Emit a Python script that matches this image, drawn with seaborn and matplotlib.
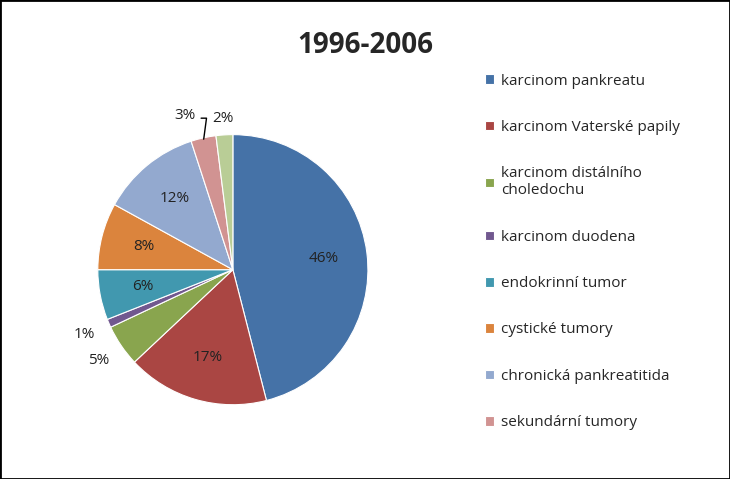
import numpy as np
import matplotlib
matplotlib.use('Agg')
import matplotlib.pyplot as plt
import seaborn as sns

sns.set_style('white')
plt.rcParams['font.family'] = ['Open Sans', 'DejaVu Sans']

# ─── Data ────────────────────────────────────────────────────────────────
CATEGORIES = [
    'karcinom pankreatu',
    'karcinom Vaterské papily',
    'karcinom distálního\ncholedochu',
    'karcinom duodena',
    'endokrinní tumor',
    'cystické tumory',
    'chronická pankreatitida',
    'sekundární tumory',
    'ostatní',
]
SHARES = [46, 17, 5, 1, 6, 8, 12, 3, 2]
COLORS = ['#4572a7', '#aa4643', '#89a54e', '#71588f', '#4198af',
          '#db843d', '#93a9cf', '#d19392', '#b9cd96']
# slices whose label sits outside the pie
OUTSIDE = {2: 1.2, 3: 1.2, 7: 1.17, 8: 1.12}

fig = plt.figure(figsize=(7.3, 4.79), dpi=100)
fig.patch.set_facecolor('white')
fig.patches.append(plt.Rectangle((0, 0), 1, 1, transform=fig.transFigure,
                                 fill=False, edgecolor='black', linewidth=2))
ax = fig.add_axes([0.134, 0.155, 0.37, 0.564])

wedges, _ = ax.pie(SHARES, colors=COLORS, startangle=90, counterclock=False,
                   wedgeprops=dict(edgecolor='white', linewidth=0.8))
ax.set_aspect('equal')
ax.set_xlim(-1, 1)
ax.set_ylim(-1, 1)
ax.axis('off')

for i, w in enumerate(wedges):
    ang = np.deg2rad((w.theta1 + w.theta2) / 2)
    r = OUTSIDE.get(i, 0.68)
    x, y = r * np.cos(ang), r * np.sin(ang)
    if i == 7:
        x -= 0.1
        ax.plot([x + 0.12, x + 0.16, np.cos(ang) * 0.99],
                [y - 0.02, y - 0.02, np.sin(ang) * 0.99],
                color='black', lw=1, clip_on=False)
    ax.text(x, y, f'{SHARES[i]}%', ha='center', va='center', fontsize=11,
            color='#222222')

fig.text(0.5, 0.906, '1996-2006', ha='center', va='center', fontsize=20,
         fontweight='bold')

handles = wedges[:8]
fig.legend(handles, CATEGORIES[:8], loc='upper left',
           bbox_to_anchor=(0.645, 0.875), frameon=False, fontsize=11,
           handlelength=0.6, handleheight=0.6, handletextpad=0.5,
           labelspacing=2.05)

fig.savefig('out.png', dpi=100)
